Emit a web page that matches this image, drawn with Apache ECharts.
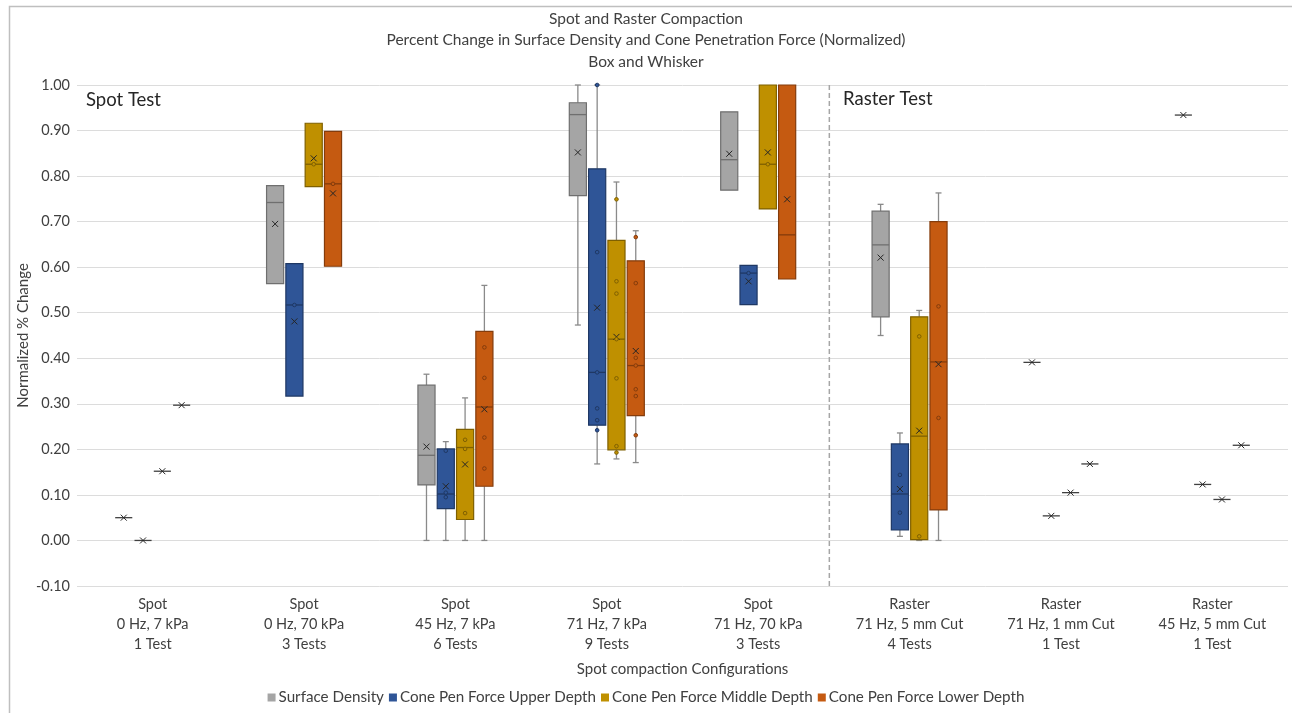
<!DOCTYPE html>
<html>
<head>
<meta charset="utf-8">
<script src="https://cdn.jsdelivr.net/npm/echarts@6/dist/echarts.min.js"></script>
<style>
html,body{margin:0;padding:0;background:#fff;}
#chart{width:1292px;height:713px;}
</style>
</head>
<body>
<div id="chart"></div>
<script>
// ---- data ----
const categories = [
  'Spot\n0 Hz, 7 kPa\n1 Test',
  'Spot\n0 Hz, 70 kPa\n3 Tests',
  'Spot\n45 Hz, 7 kPa\n6 Tests',
  'Spot\n71 Hz, 7 kPa\n9 Tests',
  'Spot\n71 Hz, 70 kPa\n3 Tests',
  'Raster\n71 Hz, 5 mm Cut\n4 Tests',
  'Raster\n71 Hz, 1 mm Cut\n1 Test',
  'Raster\n45 Hz, 5 mm Cut\n1 Test'
];
const seriesNames = ['Surface Density','Cone Pen Force Upper Depth','Cone Pen Force Middle Depth','Cone Pen Force Lower Depth'];
const yTicks = {min:-0.1, max:1.0, interval:0.1};

// [min, q1, median, q3, max, mean] per category
const surfaceDensity = [
  [0.050,0.050,0.050,0.050,0.050,0.050],
  [0.564,0.564,0.742,0.779,0.779,0.695],
  [0.000,0.122,0.187,0.341,0.365,0.206],
  [0.473,0.757,0.935,0.961,1.000,0.852],
  [0.769,0.769,0.836,0.941,0.941,0.849],
  [0.450,0.491,0.649,0.723,0.738,0.621],
  [0.391,0.391,0.391,0.391,0.391,0.391],
  [0.934,0.934,0.934,0.934,0.934,0.934]
];
const upperDepth = [
  [0.000,0.000,0.000,0.000,0.000,0.000],
  [0.317,0.317,0.517,0.608,0.608,0.481],
  [0.000,0.070,0.102,0.201,0.217,0.119],
  [0.168,0.253,0.369,0.816,1.000,0.511],
  [0.518,0.518,0.587,0.604,0.604,0.569],
  [0.009,0.023,0.102,0.212,0.236,0.113],
  [0.054,0.054,0.054,0.054,0.054,0.054],
  [0.123,0.123,0.123,0.123,0.123,0.123]
];
const middleDepth = [
  [0.152,0.152,0.152,0.152,0.152,0.152],
  [0.777,0.777,0.826,0.916,0.916,0.839],
  [0.000,0.046,0.204,0.244,0.313,0.167],
  [0.179,0.199,0.442,0.659,0.787,0.447],
  [0.728,0.728,0.826,1.000,1.000,0.852],
  [0.000,0.002,0.229,0.491,0.505,0.241],
  [0.105,0.105,0.105,0.105,0.105,0.105],
  [0.090,0.090,0.090,0.090,0.090,0.090]
];
const lowerDepth = [
  [0.297,0.297,0.297,0.297,0.297,0.297],
  [0.602,0.602,0.783,0.898,0.898,0.762],
  [0.000,0.119,0.293,0.459,0.560,0.288],
  [0.171,0.274,0.384,0.614,0.680,0.416],
  [0.574,0.574,0.671,1.000,1.000,0.749],
  [0.000,0.067,0.392,0.700,0.763,0.387],
  [0.168,0.168,0.168,0.168,0.168,0.168],
  [0.209,0.209,0.209,0.209,0.209,0.209]
];
// inner points [category index, value]
const surfacePoints = [];
const upperPoints = [[1,0.517],[2,0.197],[2,0.105],[2,0.095],[3,1.0],[3,0.633],[3,0.369],[3,0.290],[3,0.264],[3,0.242],[4,0.587],[5,0.144],[5,0.061]];
const middlePoints = [[1,0.826],[2,0.221],[2,0.201],[2,0.060],[3,0.749],[3,0.569],[3,0.542],[3,0.442],[3,0.356],[3,0.207],[3,0.193],[4,0.826],[5,0.448],[5,0.009]];
const lowerPoints = [[1,0.783],[2,0.424],[2,0.357],[2,0.226],[2,0.158],[3,0.666],[3,0.565],[3,0.401],[3,0.384],[3,0.332],[3,0.317],[3,0.231],[5,0.514],[5,0.269]];
const dividerPosition = 4.47; // between Spot and Raster groups (category units)

// ---- styles ----
const fills = ['#A5A5A5','#2F5597','#BF9000','#C55A11'];
const borders = ['#6F6F6F','#1F3864','#7F6000','#843C0C'];
const FONT = 'Lato, "Liberation Sans", sans-serif';
const TXT = '#404040';

const OFF_FRAC = 0.1275, W_FRAC = 0.113;

function boxRender(sIdx){
  return function(params, api){
    const cat = api.value(0);
    const band = api.size([1,0])[0];
    const cx = api.coord([cat,0])[0] + (sIdx-1.5)*band*OFF_FRAC;
    const w = band*W_FRAC;
    const y = i => api.coord([cat, api.value(i)])[1];
    const yMin=y(1), yQ1=y(2), yMed=y(3), yQ3=y(4), yMax=y(5), yMean=y(6);
    const wc = '#8A8A8A';
    const cap = 3;
    const ch = [];
    if (yMax < yQ3 - 0.5) {
      ch.push({type:'line',shape:{x1:cx,y1:yMax,x2:cx,y2:yQ3},style:{stroke:wc,lineWidth:1.3}});
      ch.push({type:'line',shape:{x1:cx-cap,y1:yMax,x2:cx+cap,y2:yMax},style:{stroke:wc,lineWidth:1.3}});
    }
    if (yMin > yQ1 + 0.5) {
      ch.push({type:'line',shape:{x1:cx,y1:yQ1,x2:cx,y2:yMin},style:{stroke:wc,lineWidth:1.3}});
      ch.push({type:'line',shape:{x1:cx-cap,y1:yMin,x2:cx+cap,y2:yMin},style:{stroke:wc,lineWidth:1.3}});
    }
    const h = yQ1 - yQ3;
    if (h > 0.5) {
      ch.push({type:'rect',shape:{x:cx-w/2,y:yQ3,width:w,height:h},style:{fill:fills[sIdx],stroke:borders[sIdx],lineWidth:1.2}});
      ch.push({type:'line',shape:{x1:cx-w/2,y1:yMed,x2:cx+w/2,y2:yMed},style:{stroke:borders[sIdx],lineWidth:1.3}});
    } else {
      ch.push({type:'line',shape:{x1:cx-w/2,y1:yMed,x2:cx+w/2,y2:yMed},style:{stroke:'#404040',lineWidth:1.3}});
    }
    const m = 3;
    const mc = '#262626';
    ch.push({type:'line',shape:{x1:cx-m,y1:yMean-m,x2:cx+m,y2:yMean+m},style:{stroke:mc,lineWidth:1}});
    ch.push({type:'line',shape:{x1:cx-m,y1:yMean+m,x2:cx+m,y2:yMean-m},style:{stroke:mc,lineWidth:1}});
    return {type:'group',children:ch};
  };
}
function pointRender(sIdx){
  return function(params, api){
    const cat = api.value(0);
    const band = api.size([1,0])[0];
    const cx = api.coord([cat,0])[0] + (sIdx-1.5)*band*OFF_FRAC;
    const cy = api.coord([cat, api.value(1)])[1];
    return {type:'circle',shape:{cx:cx,cy:cy,r:1.8},style:{fill:fills[sIdx],stroke:borders[sIdx],lineWidth:1}};
  };
}

const boxData = [surfaceDensity, upperDepth, middleDepth, lowerDepth];
const pointData = [surfacePoints, upperPoints, middlePoints, lowerPoints];

const series = [];
boxData.forEach((arr, s) => {
  series.push({
    type:'custom', name: seriesNames[s],
    renderItem: boxRender(s),
    itemStyle:{color:fills[s]},
    encode:{x:0, y:[1,2,3,4,5,6]},
    data: arr.map((v,i)=>[i].concat(v)),
    clip:false, z:2
  });
  series.push({
    type:'custom', name: seriesNames[s],
    renderItem: pointRender(s),
    itemStyle:{color:fills[s]},
    encode:{x:0, y:1},
    data: pointData[s],
    z:3
  });
});
series.push({
  type:'custom', name:'divider', silent:true,
  renderItem: function(params, api){
    const pos = api.value(0);
    const i = Math.floor(pos);
    const band = api.size([1,0])[0];
    const x = api.coord([i, 0])[0] + (pos - i)*band;
    const top = api.coord([0, yTicks.max])[1];
    const bot = api.coord([0, yTicks.min])[1];
    return {type:'line',shape:{x1:x,y1:top,x2:x,y2:bot},style:{stroke:'#A6A6A6',lineWidth:1.5,lineDash:[5,3]}};
  },
  encode:{x:0,y:1},
  data:[[dividerPosition, 0]], z:1
});

const chart = echarts.init(document.getElementById('chart'), null, {renderer:'canvas'});
chart.setOption({
  backgroundColor:'#ffffff',
  animation:false,
  textStyle:{fontFamily:FONT},
  title:{
    text:'Spot and Raster Compaction\nPercent Change in Surface Density and Cone Penetration Force (Normalized)\nBox and Whisker',
    left:'center', top:3,
    textStyle:{fontFamily:FONT,fontSize:15.5,fontWeight:'normal',color:TXT,lineHeight:21.5}
  },
  legend:{
    data:seriesNames, bottom:3, left:'center',
    icon:'rect', itemWidth:8, itemHeight:8, itemGap:5,
    textStyle:{fontFamily:FONT,fontSize:15.2,color:TXT,padding:[0,0,0,-2]}
  },
  grid:{left:77,right:4,top:85,bottom:127,containLabel:false},
  xAxis:{
    type:'category', data:categories,
    name:'Spot compaction Configurations', nameLocation:'middle', nameGap:76,
    nameTextStyle:{fontFamily:FONT,fontSize:15,color:TXT},
    axisLine:{show:false}, axisTick:{show:false}, splitLine:{show:false},
    axisLabel:{fontFamily:FONT,fontSize:14.5,color:TXT,lineHeight:20,margin:8,interval:0}
  },
  yAxis:{
    type:'value', min:yTicks.min, max:yTicks.max, interval:yTicks.interval,
    name:'Normalized % Change', nameLocation:'middle', nameGap:46, nameRotate:90,
    nameMoveOverlap:false,
    nameTextStyle:{fontFamily:FONT,fontSize:15,color:TXT},
    axisLine:{show:false}, axisTick:{show:false},
    splitLine:{lineStyle:{color:'#DCDCDC',width:1}},
    axisLabel:{fontFamily:FONT,fontSize:14.5,color:TXT,margin:7,formatter:v=>v.toFixed(2)}
  },
  graphic:[
    {type:'rect',left:7,top:4,shape:{width:1290,height:712},style:{fill:'none',stroke:'#BFBFBF',lineWidth:1.5},silent:true},
    {type:'text',left:86,top:91,style:{text:'Spot Test',font:'18.5px '+FONT,fill:'#262626'}},
    {type:'text',left:843,top:90,style:{text:'Raster Test',font:'18.5px '+FONT,fill:'#262626'}}
  ],
  series: series
});
</script>
</body>
</html>
